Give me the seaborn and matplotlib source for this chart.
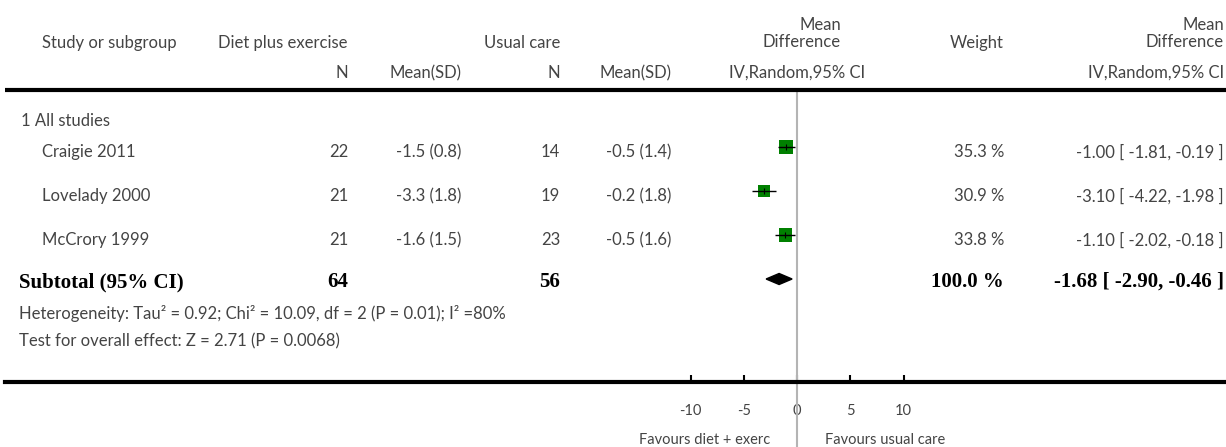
import matplotlib
matplotlib.use("Agg")
import matplotlib.pyplot as plt
import matplotlib.transforms as mtransforms
from matplotlib.patches import Polygon
import numpy as np
import pandas as pd
import seaborn as sns

# data
studies = ["Craigie 2011", "Lovelady 2000", "McCrory 1999"]
n_diet = [22, 21, 21]
mean_diet = [-1.5, -3.3, -1.6]
sd_diet = [0.8, 1.8, 1.5]
n_usual = [14, 19, 23]
mean_usual = [-0.5, -0.2, -0.5]
sd_usual = [1.4, 1.8, 1.6]
md = [-1.00, -3.10, -1.10]
ci_low = [-1.81, -4.22, -2.02]
ci_high = [-0.19, -1.98, -0.18]
weights = [35.3, 30.9, 33.8]
total_diet, total_usual = 64, 56
pooled_md, pooled_low, pooled_high = -1.68, -2.90, -0.46
axis_ticks = [-10, -5, 0, 5, 10]

df = pd.DataFrame({"study": studies, "md": md, "low": ci_low, "high": ci_high,
                   "weight": weights, "row": np.arange(len(studies))})

sns.set_theme(style="white")
plt.rcParams["font.family"] = ["Lato", "DejaVu Sans"]
plt.rcParams["axes.unicode_minus"] = False

W, H = 1226, 447
fig = plt.figure(figsize=(W / 100, H / 100), dpi=100)

# layout in pixels: zero line at x=797, 10.65 px per unit, rows 44 px apart
x0_px, px_per_unit = 797, 10.65
row0_px, row_px = 147, 44
left_px, bottom_px = 5, 382
ax = fig.add_axes([left_px / W, (H - bottom_px) / H, 1 - left_px / W, bottom_px / H])
ax.set_xlim((left_px - x0_px) / px_per_unit, (W - x0_px) / px_per_unit)
ax.set_ylim((bottom_px - row0_px) / row_px, -row0_px / row_px)


def py(p):
    return (p - row0_px) / row_px


trans = mtransforms.blended_transform_factory(fig.transFigure, ax.transData)
grey = "#444444"


def put(x, y, s, ha="left", bold=False, size=12):
    if bold:
        ax.text(x / W, py(y), s, transform=trans, ha=ha, va="center", color="black",
                fontsize=size, fontweight="bold", family="Liberation Serif", clip_on=False)
    else:
        ax.text(x / W, py(y), s, transform=trans, ha=ha, va="center", color=grey,
                fontsize=size, clip_on=False)


# header
put(42, 43, "Study or subgroup")
put(218, 43, "Diet plus exercise")
put(560, 43, "Usual care", ha="right")
put(348, 73, "N", ha="right")
put(461, 73, "Mean(SD)", ha="right")
put(560, 73, "N", ha="right")
put(671, 73, "Mean(SD)", ha="right")
put(841, 25, "Mean", ha="right")
put(841, 42, "Difference", ha="right")
put(797, 73, "IV,Random,95% CI", ha="center")
put(977, 43, "Weight", ha="center")
put(1224, 25, "Mean", ha="right")
put(1224, 42, "Difference", ha="right")
put(1224, 73, "IV,Random,95% CI", ha="right")
ax.axhline(py(90), color="black", lw=3)

put(21, 121, "1 All studies")
for i, s in enumerate(studies):
    y = row0_px + row_px * i + 5
    put(42, y, s)
    put(348, y, f"{n_diet[i]}", ha="right")
    put(461, y, f"{mean_diet[i]} ({sd_diet[i]})", ha="right")
    put(560, y, f"{n_usual[i]}", ha="right")
    put(671, y, f"{mean_usual[i]} ({sd_usual[i]})", ha="right")
    put(1004, y, f"{weights[i]:.1f} %", ha="right")
    put(1224, y, f"{md[i]:.2f} [ {ci_low[i]:.2f}, {ci_high[i]:.2f} ]", ha="right")

ys = 282
put(19, ys, "Subtotal (95% CI)", bold=True, size=15)
put(348, ys, f"{total_diet}", ha="right", bold=True, size=15)
put(560, ys, f"{total_usual}", ha="right", bold=True, size=15)
put(1004, ys, f"{sum(weights):.1f} %", ha="right", bold=True, size=15)
put(1224, ys, f"{pooled_md:.2f} [ {pooled_low:.2f}, {pooled_high:.2f} ]", ha="right",
    bold=True, size=15)
put(19, 313, "Heterogeneity: Tau² = 0.92; Chi² = 10.09, df = 2 (P = 0.01); I² =80%")
put(19, 341, "Test for overall effect: Z = 2.71 (P = 0.0068)")

# zero line
ax.vlines(0, py(92), py(H + 5), color="#b4b4b4", lw=1.5, zorder=1, clip_on=False)

# study squares and confidence intervals
sns.scatterplot(data=df, x="md", y="row", size="weight", sizes=(64, 100),
                marker="s", color="#008000", edgecolor="none", legend=False,
                ax=ax, zorder=3)
ax.hlines(df["row"], df["low"], df["high"], color="black", lw=1, zorder=4)
ax.vlines(df["md"], df["row"] - 0.07, df["row"] + 0.07, color="black", lw=0.8, zorder=4)

# pooled diamond
yd = len(studies)
ax.add_patch(Polygon([(pooled_low, yd), (pooled_md, yd - 0.125),
                      (pooled_high, yd), (pooled_md, yd + 0.125)],
                     closed=True, color="black", zorder=4))

# bottom axis
for side in ["left", "top", "right"]:
    ax.spines[side].set_visible(False)
ax.spines["bottom"].set_linewidth(3)
ax.spines["bottom"].set_color("black")
ax.set_xticks(axis_ticks)
ax.set_xticklabels([str(t) for t in axis_ticks])
ax.set_yticks([])
ax.tick_params(axis="x", direction="in", length=5, width=1.5, pad=16,
               labelsize=10.5, labelcolor=grey, color="black", bottom=True)
ax.set_xlabel("")
ax.set_ylabel("")

put(770, 440, "Favours diet + exerc", ha="right", size=10.5)
put(825, 440, "Favours usual care", size=10.5)

fig.savefig("out.png", dpi=100)
